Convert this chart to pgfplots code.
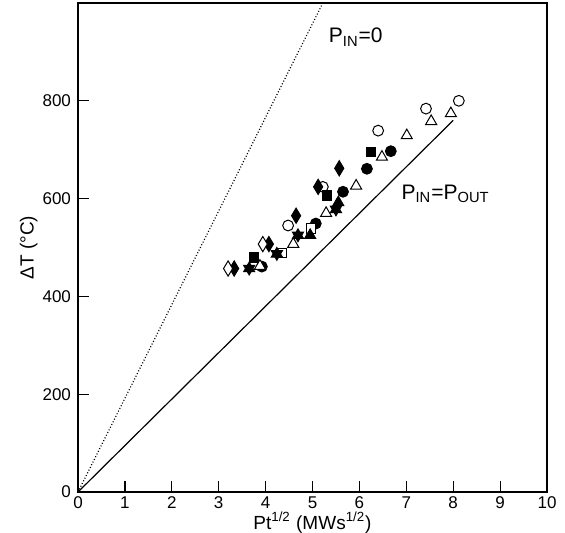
\documentclass[border=0pt]{standalone}
\usepackage{fontspec}
\setmainfont{Liberation Sans}
\usepackage{pgfplots}
\pgfplotsset{compat=1.18}
\usetikzlibrary{plotmarks}

% filled six-pointed star
\pgfdeclareplotmark{hexstar}{%
  \pgfpathmoveto{\pgfqpointpolar{90}{\pgfplotmarksize}}%
  \pgfpathlineto{\pgfqpointpolar{210}{\pgfplotmarksize}}%
  \pgfpathlineto{\pgfqpointpolar{330}{\pgfplotmarksize}}%
  \pgfpathclose
  \pgfpathmoveto{\pgfqpointpolar{270}{\pgfplotmarksize}}%
  \pgfpathlineto{\pgfqpointpolar{30}{\pgfplotmarksize}}%
  \pgfpathlineto{\pgfqpointpolar{150}{\pgfplotmarksize}}%
  \pgfpathclose
  \pgfusepathqfillstroke}

\begin{document}
\begin{tikzpicture}
\begin{axis}[
    name=ax,
    scale only axis,
    width=234.5pt,
    height=244.5pt,
    xmin=0, xmax=10,
    ymin=0, ymax=1000,
    xtick={0,1,...,10},
    ytick={0,200,400,600,800},
    tick pos=left,
    tick align=inside,
    major tick length=5.5pt,
    axis line style={line width=0.6pt},
    tick style={line width=0.6pt, black},
    tick label style={font=\fontsize{8.5}{10}\selectfont},
    label style={font=\fontsize{9.5}{11}\selectfont},
    /pgf/number format/assume math mode=true,
    xticklabel style={yshift=1pt},
    xlabel={Pt\textsuperscript{1/2} (MWs\textsuperscript{1/2})},
    ylabel={ΔT (°C)},
    xlabel style={at={(axis description cs:0.5,-0.062)}, anchor=center},
    ylabel style={at={(axis description cs:-0.105,0.5)}, anchor=center},
    every axis plot/.append style={only marks, black, line width=0.5pt},
    clip=false,
]
% reference lines
\addplot[no marks, sharp plot, densely dotted, line width=0.6pt] coordinates {(0,0) (5.22,1000)};
\addplot[no marks, sharp plot, line width=0.6pt] coordinates {(0,0) (8,760)};
\node[anchor=west, font=\fontsize{10.5}{12}\selectfont] at (axis cs:5.2,930) {P\textsubscript{IN}=0};
\node[anchor=west, font=\fontsize{10.5}{12}\selectfont] at (axis cs:6.75,610) {P\textsubscript{IN}=P\textsubscript{OUT}};

% open circles
\addplot[mark=o, mark size=2.7pt, mark options={fill=white}]
    coordinates {(4.48,545) (5.22,624) (6.40,739) (7.42,784) (8.12,800)};
% filled circles
\addplot[mark=*, mark size=2.7pt]
    coordinates {(3.92,461) (5.07,549) (5.65,614) (6.16,661) (6.67,697)};
% open triangles
\addplot[mark=triangle*, mark size=3.2pt, mark options={fill=white}]
    coordinates {(3.88,462) (4.59,507) (5.29,570) (5.93,626) (6.48,685) (7.01,729) (7.53,758) (7.95,774)};
% filled squares
\addplot[mark=square*, mark size=2.4pt]
    coordinates {(3.75,479) (5.31,606) (6.25,695)};
% open squares
\addplot[mark=square*, mark size=2.4pt, mark options={fill=white}]
    coordinates {(4.35,489) (4.97,539)};
% filled diamonds
\addplot[mark=diamond*, mark size=3.8pt, mark options={xscale=0.8}]
    coordinates {(3.33,457) (4.07,507) (4.65,565) (5.12,624) (5.57,662)};
% open diamonds
\addplot[mark=diamond*, mark size=3.8pt, mark options={xscale=0.8, fill=white}]
    coordinates {(3.20,457) (3.94,507)};
% filled stars
\addplot[mark=hexstar, mark size=3.2pt]
    coordinates {(3.65,457) (4.24,487) (4.69,525) (5.50,578)};
% filled triangles
\addplot[mark=triangle*, mark size=3.2pt]
    coordinates {(4.95,525) (5.55,592)};
\end{axis}
\pgfresetboundingbox
\path[use as bounding box] ([xshift=-39pt,yshift=-20pt]ax.south west) rectangle ([xshift=9pt,yshift=1.5pt]ax.north east);
\end{tikzpicture}
\end{document}
